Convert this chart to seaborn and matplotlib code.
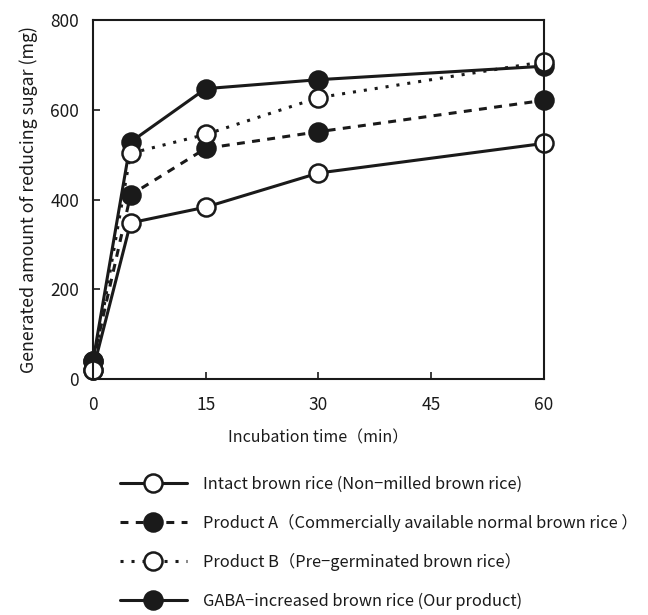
import seaborn as sns
import matplotlib.pyplot as plt
import pandas as pd

# incubation time (min)
time_min = [0, 5, 15, 30, 60]

# generated amount of reducing sugar (mg)
intact = [20, 348, 383, 459, 525]
product_a = [40, 410, 514, 551, 621]
product_b = [20, 503, 545, 627, 707]
gaba = [40, 528, 647, 667, 697]

labels = ['Intact brown rice (Non\u2212milled brown rice)',
          'Product A\uff08Commercially available normal brown rice \uff09',
          'Product B\uff08Pre\u2212germinated brown rice\uff09',
          'GABA\u2212increased brown rice (Our product)']

x_ticks = [0, 15, 30, 45, 60]
y_ticks = [0, 200, 400, 600, 800]

sns.set_style('ticks')
plt.rcParams['font.family'] = ['Noto Sans CJK JP', 'DejaVu Sans']

fig = plt.figure(figsize=(6.48, 6.15), dpi=100)
ax = fig.add_axes([0.1435, 0.3837, 0.696, 0.5838])

ink = '#1a1a1a'
# name, values, linestyle, filled marker
series = [
    (labels[3], gaba, '-', True),
    (labels[1], product_a, (0, (2.6, 2.4)), True),
    (labels[2], product_b, (0, (1.0, 2.6)), False),
    (labels[0], intact, '-', False),
]

handles = {}
for name, vals, ls, filled in series:
    df = pd.DataFrame({'time': time_min, 'sugar': vals})
    sns.lineplot(data=df, x='time', y='sugar', ax=ax, color=ink,
                 linestyle=ls, linewidth=2.2, marker='o', markersize=13,
                 markerfacecolor=ink if filled else 'white',
                 markeredgecolor=ink, markeredgewidth=1.8,
                 clip_on=False, label=name, legend=False)
    handles[name] = ax.lines[-1]

ax.set_xlim(0, 60)
ax.set_ylim(0, 800)
ax.set_xticks(x_ticks)
ax.set_yticks(y_ticks)
ax.tick_params(direction='in', length=5, width=1.2, colors=ink,
               labelsize=12.5)
ax.tick_params(axis='x', pad=12)
ax.tick_params(axis='y', pad=10)
for s in ax.spines.values():
    s.set_linewidth(1.5)
    s.set_color(ink)

ax.set_xlabel('Incubation time\uff08min\uff09', fontsize=11.5, color=ink, labelpad=11)
ax.set_ylabel('Generated amount of reducing sugar (mg)', fontsize=12.8,
              color=ink, labelpad=9)

fig.legend([handles[l] for l in labels], labels, loc='upper left',
           bbox_to_anchor=(0.185, 0.227), frameon=False, fontsize=11.8,
           handlelength=4.1, handletextpad=1.0, labelspacing=1.3,
           borderpad=0, borderaxespad=0, labelcolor=ink)

fig.savefig('out.png', dpi=100)
